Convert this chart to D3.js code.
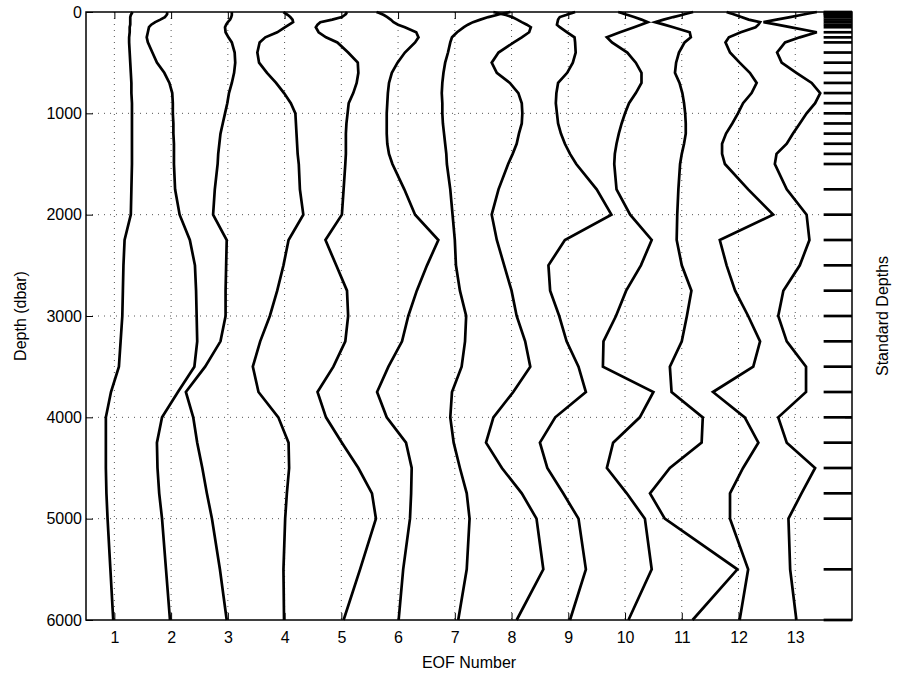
<!DOCTYPE html>
<html>
<head>
<meta charset="utf-8">
<script src="https://cdn.jsdelivr.net/npm/d3@7/dist/d3.min.js"></script>
<style>
  body { margin: 0; background: #fff; }
  text { font-family: "Liberation Sans", Arial, Helvetica, sans-serif; }
</style>
</head>
<body>
<svg id="chart" width="904" height="679"></svg>
<script>
// Standard depth levels (dbar) at which every EOF profile is sampled
const depths = [0, 10, 20, 30, 50, 75, 100, 125, 150, 200, 250, 300,
  400, 500, 600, 700, 800, 900, 1000, 1100, 1200, 1300, 1400, 1500,
  1750, 2000, 2250, 2500, 2750, 3000, 3250, 3500, 3750, 4000, 4250, 4500, 4750, 5000,
  5500, 6000];

// EOF profile amplitudes (horizontal offset from each EOF's number)
const eof1 = [0.32,0.31,0.30,0.29,0.28,0.28,0.28,0.28,0.27,0.27,0.26,0.26,
  0.27,0.28,0.29,0.30,0.30,0.31,0.31,0.31,0.31,0.31,0.31,0.31,
  0.30,0.29,0.18,0.16,0.15,0.14,0.11,0.08,-0.06,-0.15,-0.15,-0.15,-0.14,-0.12,
  -0.07,-0.02];
const eof2 = [-0.07,-0.07,-0.07,-0.08,-0.11,-0.19,-0.28,-0.35,-0.39,-0.41,-0.43,-0.41,
  -0.33,-0.25,-0.12,-0.03,0.02,0.03,0.03,0.04,0.04,0.05,0.05,0.05,
  0.07,0.15,0.33,0.42,0.44,0.45,0.46,0.41,0.12,-0.16,-0.25,-0.24,-0.21,-0.16,
  -0.09,-0.02];
const eof3 = [0.07,0.07,0.07,0.07,0.06,0.04,0.00,-0.03,-0.05,-0.04,0.01,0.07,
  0.12,0.13,0.11,0.07,0.02,-0.01,-0.05,-0.09,-0.13,-0.15,-0.17,-0.18,
  -0.23,-0.26,-0.02,-0.03,-0.04,-0.04,-0.13,-0.40,-0.74,-0.61,-0.54,-0.45,-0.37,-0.28,
  -0.14,-0.02];
const eof4 = [-0.02,0.00,0.03,0.06,0.10,0.14,0.15,0.08,0.01,-0.13,-0.34,-0.44,
  -0.48,-0.45,-0.31,-0.15,-0.01,0.11,0.19,0.20,0.21,0.22,0.23,0.25,
  0.27,0.33,0.07,-0.02,-0.13,-0.26,-0.43,-0.56,-0.46,-0.11,0.07,0.08,0.04,0.01,
  -0.02,-0.01];
const eof5 = [0.10,0.09,0.08,0.06,0.01,-0.16,-0.37,-0.42,-0.45,-0.40,-0.27,-0.07,
  0.12,0.29,0.30,0.27,0.21,0.13,0.11,0.09,0.08,0.08,0.08,0.07,
  0.04,0.01,-0.28,-0.09,0.10,0.12,0.07,-0.14,-0.42,-0.27,0.01,0.30,0.54,0.61,
  0.33,0.04];
const eof6 = [-0.38,-0.33,-0.29,-0.25,-0.19,-0.13,-0.08,0.00,0.12,0.32,0.36,0.30,
  0.12,-0.01,-0.11,-0.16,-0.18,-0.19,-0.20,-0.20,-0.20,-0.19,-0.16,-0.10,
  0.11,0.30,0.71,0.51,0.33,0.18,0.07,-0.17,-0.37,-0.20,0.14,0.24,0.23,0.21,
  0.09,0.01];
const eof7 = [0.98,0.89,0.80,0.74,0.59,0.45,0.32,0.23,0.16,0.04,-0.05,-0.08,
  -0.12,-0.17,-0.20,-0.22,-0.23,-0.22,-0.22,-0.21,-0.19,-0.17,-0.15,-0.14,
  -0.08,-0.04,0.00,0.02,0.09,0.20,0.18,0.12,-0.05,-0.08,-0.02,0.09,0.21,0.26,
  0.21,0.06];
const eof8 = [-0.32,-0.25,-0.18,-0.10,0.01,0.10,0.18,0.27,0.34,0.31,0.18,0.04,
  -0.23,-0.35,-0.26,-0.03,0.12,0.18,0.19,0.18,0.13,0.09,0.02,-0.06,
  -0.23,-0.35,-0.26,-0.13,0.00,0.09,0.24,0.33,0.03,-0.32,-0.45,-0.17,0.18,0.44,
  0.56,0.09];
const eof9 = [0.12,0.07,0.01,-0.04,-0.15,-0.18,-0.19,-0.20,-0.15,-0.02,0.11,0.12,
  0.13,0.08,-0.02,-0.18,-0.21,-0.22,-0.20,-0.18,-0.13,-0.06,0.03,0.14,
  0.50,0.76,-0.06,-0.35,-0.32,-0.16,-0.03,0.18,0.31,-0.23,-0.50,-0.37,-0.09,0.18,
  0.31,0.03];
const eof10 = [-0.12,-0.06,-0.01,0.05,0.16,0.29,0.40,0.28,0.16,-0.09,-0.32,-0.23,
  0.04,0.19,0.29,0.29,0.19,0.07,0.00,-0.06,-0.11,-0.15,-0.18,-0.19,
  -0.15,0.09,0.47,0.28,0.02,-0.16,-0.38,-0.39,0.50,0.26,-0.21,-0.32,0.03,0.35,
  0.47,0.06];
const eof11 = [0.20,0.13,0.06,0.00,-0.15,-0.32,-0.47,-0.31,-0.15,0.14,0.16,0.05,
  -0.05,-0.10,-0.12,-0.04,0.01,0.04,0.06,0.07,0.07,0.04,0.00,-0.03,
  -0.06,-0.08,-0.09,0.00,0.17,0.09,0.00,-0.21,-0.18,0.37,0.35,-0.21,-0.56,-0.30,
  0.98,0.19];
const eof12 = [-0.21,-0.16,-0.10,-0.05,0.05,0.18,0.38,0.35,0.30,0.04,-0.17,-0.23,
  -0.15,0.02,0.20,0.32,0.23,0.08,-0.01,-0.11,-0.22,-0.29,-0.29,-0.24,
  0.17,0.61,-0.33,-0.21,-0.06,0.17,0.38,0.26,-0.45,0.11,0.35,0.08,-0.15,-0.15,
  0.17,0.02];
const eof13 = [0.38,0.28,0.19,0.10,-0.09,-0.33,-0.56,-0.32,-0.09,0.38,0.08,-0.18,
  -0.32,-0.24,0.02,0.29,0.44,0.35,0.20,0.08,-0.04,-0.15,-0.33,-0.36,
  -0.15,0.20,0.25,0.08,-0.21,-0.30,-0.15,0.19,0.19,-0.30,-0.15,0.35,0.11,-0.12,
  -0.09,0.02];

const eofProfiles = [eof1, eof2, eof3, eof4, eof5, eof6, eof7, eof8, eof9, eof10, eof11, eof12, eof13];
const eofNumbers = [1, 2, 3, 4, 5, 6, 7, 8, 9, 10, 11, 12, 13];
const depthTicks = [0, 1000, 2000, 3000, 4000, 5000, 6000];
const gridDepths = [1000, 2000, 3000, 4000, 5000];

const margin = { top: 12, right: 52, bottom: 59, left: 86 };
const width = 904, height = 679;
const innerW = width - margin.left - margin.right;
const innerH = height - margin.top - margin.bottom;

const svg = d3.select("#chart");
const g = svg.append("g").attr("transform", `translate(${margin.left},${margin.top})`);

const x = d3.scaleLinear().domain([0.5, 14]).range([0, innerW]);
const y = d3.scaleLinear().domain([0, 6000]).range([0, innerH]);

// dotted grid
const gridStyle = sel => sel.attr("stroke", "#555").attr("stroke-width", 1)
  .attr("stroke-dasharray", "1,5");
g.append("g").selectAll("line").data(eofNumbers).join("line")
  .attr("x1", d => x(d)).attr("x2", d => x(d))
  .attr("y1", 0).attr("y2", innerH).call(gridStyle);
g.append("g").selectAll("line").data(gridDepths).join("line")
  .attr("x1", 0).attr("x2", innerW)
  .attr("y1", d => y(d)).attr("y2", d => y(d)).call(gridStyle);

// standard depth markers along the right edge
g.append("g").selectAll("line").data(depths).join("line")
  .attr("x1", x(13.5)).attr("x2", x(14))
  .attr("y1", d => y(d)).attr("y2", d => y(d))
  .attr("stroke", "#000").attr("stroke-width", 2.7);

// EOF profiles, each centred on its EOF number
const line = d3.line()
  .x(d => x(d.n + d.v))
  .y(d => y(d.depth));
g.append("g").selectAll("path")
  .data(eofProfiles.map((vals, i) => vals.map((v, j) => ({ n: eofNumbers[i], v, depth: depths[j] }))))
  .join("path")
  .attr("d", line)
  .attr("fill", "none")
  .attr("stroke", "#000")
  .attr("stroke-width", 2.7)
  .attr("stroke-linejoin", "miter")
  .attr("stroke-miterlimit", 4);

// axes with inward ticks on all four sides
const styleAxis = sel => {
  sel.select(".domain").remove();
  sel.selectAll(".tick line").attr("stroke", "#000").attr("stroke-width", 1);
  sel.selectAll("text").attr("fill", "#000").attr("font-size", 16);
};
g.append("g").attr("transform", `translate(0,${innerH})`)
  .call(d3.axisBottom(x).tickValues(eofNumbers).tickFormat(d3.format("d"))
    .tickSizeInner(-7).tickSizeOuter(0).tickPadding(12))
  .call(styleAxis);
g.append("g")
  .call(d3.axisTop(x).tickValues(eofNumbers).tickFormat("")
    .tickSizeInner(-7).tickSizeOuter(0))
  .call(styleAxis);
g.append("g")
  .call(d3.axisLeft(y).tickValues(depthTicks).tickFormat(d3.format("d"))
    .tickSizeInner(-7).tickSizeOuter(0).tickPadding(4))
  .call(styleAxis);
g.append("g").attr("transform", `translate(${innerW},0)`)
  .call(d3.axisRight(y).tickValues(depthTicks).tickFormat("")
    .tickSizeInner(-7).tickSizeOuter(0))
  .call(styleAxis);

// plot frame
g.append("rect").attr("x", 0).attr("y", 0).attr("width", innerW).attr("height", innerH)
  .attr("fill", "none").attr("stroke", "#000").attr("stroke-width", 1.5);

// axis titles
svg.append("text")
  .attr("x", margin.left + innerW / 2).attr("y", 668)
  .attr("text-anchor", "middle").attr("font-size", 16).text("EOF Number");
svg.append("text")
  .attr("transform", `translate(26,${margin.top + innerH / 2}) rotate(-90)`)
  .attr("text-anchor", "middle").attr("font-size", 16).text("Depth (dbar)");
svg.append("text")
  .attr("transform", `translate(888,${margin.top + innerH / 2}) rotate(-90)`)
  .attr("text-anchor", "middle").attr("font-size", 16).text("Standard Depths");
</script>
</body>
</html>
